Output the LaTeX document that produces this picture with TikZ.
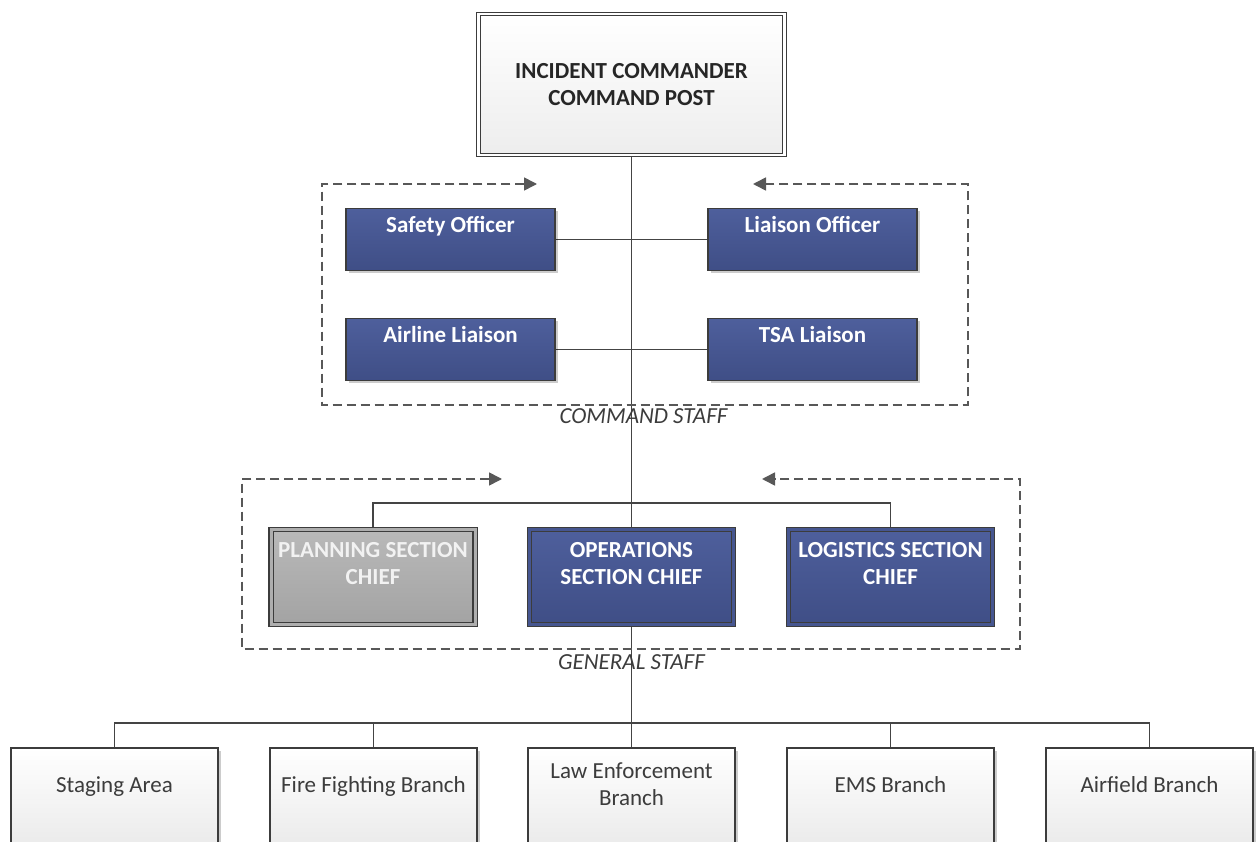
\documentclass[tikz,border=0pt]{standalone}
\usepackage{fontspec}
\setmainfont{Carlito}
\usetikzlibrary{arrows.meta,shadows}
\pgfdeclarelayer{bg}
\pgfsetlayers{bg,main}

\definecolor{ink}{HTML}{3C3C3C}
\definecolor{wire}{HTML}{444444}
\definecolor{framegrey}{HTML}{585858}
\definecolor{navytop}{HTML}{4E5F9C}
\definecolor{navymid}{HTML}{465690}
\definecolor{navybot}{HTML}{3F4E86}
\definecolor{greytop}{HTML}{B9B9B9}
\definecolor{greymid}{HTML}{AEAEAE}
\definecolor{greybot}{HTML}{A3A3A3}
\definecolor{paletext}{HTML}{F2F2F2}

\newcommand\basefont{\fontsize{23}{27}\selectfont}
% text block of fixed size, first baseline #3 below the top edge
\newcommand\boxlabel[4]{\parbox[c][#2][t]{#1}{\vspace*{\dimexpr#3-\ht\strutbox\relax}\centering\strut #4\par}}

\tikzset{
  softshadow/.style={drop shadow={shadow xshift=2.5pt, shadow yshift=-2.5pt, opacity=0.2, fill=black}},
  conn/.style={draw=wire, line width=1.4pt},
  icbox/.style={draw=ink, line width=1.2pt, double=white, double distance=2.5pt,
    top color=white, bottom color=black!7, minimum width=306pt, minimum height=141pt,
    align=center, inner sep=0pt, font=\basefont\bfseries, text=black!85, softshadow},
  staffbox/.style={draw=ink, line width=1.3pt, top color=navytop, bottom color=navybot,
    inner sep=0pt, text=white, font=\basefont\bfseries, softshadow},
  chiefbox/.style={staffbox, line width=1.2pt, double=navymid, double distance=3pt},
  planbox/.style={chiefbox, top color=greytop, bottom color=greybot, double=greymid, text=paletext},
  branchbox/.style={draw=ink, line width=1.2pt, top color=white, bottom color=black!9,
    inner sep=0pt, text=ink, font=\basefont, softshadow},
  groupframe/.style={draw=framegrey, line width=1.6pt, dash pattern=on 9pt off 5pt,
    arrows={Triangle[length=13pt,width=13pt]-Triangle[length=13pt,width=13pt]}},
  grouplabel/.style={font=\basefont\itshape, text=ink, inner sep=0pt, anchor=base},
}

\begin{document}
\begin{tikzpicture}[x=1pt,y=-1pt]
\useasboundingbox (0,0) rectangle (1256,842);
\clip (0,0) rectangle (1256,842);

% top of the chain
\node[icbox] (ic) at (631.5,84.5) {INCIDENT COMMANDER\\COMMAND POST};

% command staff
\node[staffbox] (safety)  at (450.5,239.5) {\boxlabel{209pt}{62pt}{24pt}{Safety Officer}};
\node[staffbox] (liaison) at (812.5,239.5) {\boxlabel{209pt}{62pt}{24pt}{Liaison Officer}};
\node[staffbox] (airline) at (450.5,349.5) {\boxlabel{209pt}{62pt}{24pt}{Airline Liaison}};
\node[staffbox] (tsa)     at (812.5,349.5) {\boxlabel{209pt}{62pt}{24pt}{TSA Liaison}};
\draw[groupframe] (537,184) -- (322,184) -- (322,405) -- (968,405) -- (968,184) -- (753,184);
\node[grouplabel] (cmdlabel) at (643.5,423) {COMMAND STAFF};

% general staff
\node[planbox]  (plan) at (373,577)   {\boxlabel{204pt}{95pt}{27.5pt}{PLANNING SECTION\\CHIEF}};
\node[chiefbox] (ops)  at (631.5,577) {\boxlabel{204pt}{95pt}{27.5pt}{OPERATIONS\\SECTION CHIEF}};
\node[chiefbox] (logi) at (890.5,577) {\boxlabel{204pt}{95pt}{27.5pt}{LOGISTICS SECTION\\CHIEF}};
\draw[groupframe] (502,479) -- (242,479) -- (242,649) -- (1020,649) -- (1020,479) -- (762,479);
\node[grouplabel] (genlabel) at (631.5,669) {GENERAL STAFF};

% branches
\node[branchbox] (stage) at (114.5,803) {\boxlabel{207pt}{110pt}{44pt}{Staging Area}};
\node[branchbox] (fire)  at (373.5,803) {\boxlabel{207pt}{110pt}{44pt}{Fire Fighting Branch}};
\node[branchbox] (law)   at (631.5,803) {\boxlabel{207pt}{110pt}{30pt}{Law Enforcement\\Branch}};
\node[branchbox] (ems)   at (890.5,803) {\boxlabel{207pt}{110pt}{44pt}{EMS Branch}};
\node[branchbox] (air)   at (1149.5,803){\boxlabel{207pt}{110pt}{44pt}{Airfield Branch}};

% white page, then the connectors behind the boxes
\begin{pgfonlayer}{bg}
  \fill[white] (0,0) rectangle (1256,842);
  \draw[conn] (ic.south) -- (ops.north);
  \draw[conn] (safety.east) -- (liaison.west);
  \draw[conn] (airline.east) -- (tsa.west);
  \draw[conn] (plan.north) -- ++(0,-26) -| (logi.north);
  \draw[conn] (ops.south) -- (law.north);
  \draw[conn] (stage.north) -- ++(0,-24.5) -| (air.north);
  \draw[conn] (fire.north) -- ++(0,-24.5);
  \draw[conn] (ems.north) -- ++(0,-24.5);
\end{pgfonlayer}
\end{tikzpicture}
\end{document}
